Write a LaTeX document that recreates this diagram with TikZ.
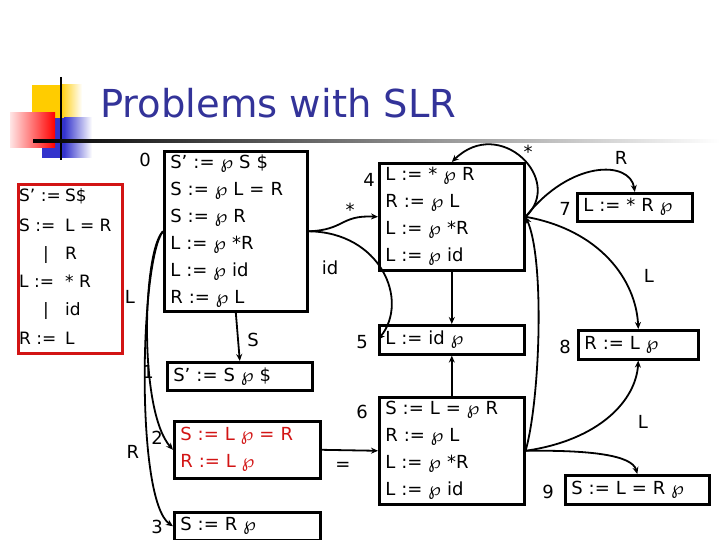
\documentclass[tikz,border=0pt]{standalone}
\usepackage{fontspec}
\setmainfont{DejaVu Sans}
\usetikzlibrary{arrows.meta}

\definecolor{titleblue}{RGB}{51,51,153}
\definecolor{gramred}{RGB}{210,20,20}
\definecolor{deckyellow}{RGB}{255,204,0}
\definecolor{deckblue}{RGB}{51,51,204}

\tikzset{
  lrstate/.style={draw, line width=2.6pt, anchor=north west, inner xsep=6pt,
    inner ysep=0pt, align=left, font=\fontsize{18}{27}\selectfont},
  stnum/.style={font=\fontsize{18}{20}\selectfont, inner sep=0pt},
  gramtext/.style={anchor=base west, inner sep=0pt, font=\fontsize{17}{20}\selectfont},
  trans/.style={line width=1.8pt, -{Stealth[length=7pt,width=6pt]}},
}

\begin{document}
\begin{tikzpicture}[x=1pt, y=-1pt]
  \useasboundingbox (0,0) rectangle (720,540);

  % Slide decoration
  \fill[deckyellow] (32,85) rectangle (60,118);
  \shade[left color=deckyellow, right color=white] (60,85) rectangle (82,118);
  \fill[deckblue] (42,118) rectangle (64,158);
  \shade[left color=deckblue, right color=white] (64,118) rectangle (92,158);
  \shade[left color=red!10, right color=red] (10,113) rectangle (55,148);
  \draw[line width=2pt] (61,77) -- (61,160);
  \shade[left color=black, middle color=gray!80, right color=white] (33,139.8) rectangle (720,142.2);
  \node[anchor=base west, inner sep=0pt, text=titleblue, font=\fontsize{38.5}{40}\selectfont]
    (title) at (100,118) {Problems with SLR};

  % Grammar
  \node[draw=gramred, line width=2.6pt, minimum width=104pt, minimum height=169pt,
    anchor=north west, inner sep=0pt] (gram) at (17,183) {};
  \foreach \y/\lhs/\rhs in {202/S’ :=/S\$, 231/S :=/L = R, 287/L :=/* R, 344/R :=/L} {
    \node[gramtext] (gl\y) at (19,\y) {\lhs};
    \node[gramtext] (gr\y) at (65,\y) {\rhs};
  }
  \foreach \y/\rhs in {259/R, 315/id} {
    \node[gramtext] (gb\y) at (43,\y) {|};
    \node[gramtext] (gr\y) at (65,\y) {\rhs};
  }

  % States
  \node[lrstate, text width=131pt, minimum height=160pt] (s0) at (163,150)
    {S’ := ℘ S \$\\ S := ℘ L = R\\ S := ℘ R\\ L := ℘ *R\\ L := ℘ id\\ R := ℘ L};
  \node[lrstate, text width=133pt, minimum height=28pt] (s1) at (166,361) {S’ := S ℘ \$};
  \node[lrstate, text width=134pt, minimum height=57pt, text=gramred] (s2) at (173,420)
    {S := L ℘ = R\\ R := L ℘};
  \node[lrstate, text width=134pt, minimum height=28pt] (s3) at (173,511) {S := R ℘};
  \node[lrstate, text width=133pt, minimum height=107pt] (s4) at (378,162)
    {L := * ℘ R\\ R := ℘ L\\ L := ℘ *R\\ L := ℘ id};
  \node[lrstate, text width=133pt, minimum height=29pt] (s5) at (378,324) {L := id ℘};
  \node[lrstate, text width=133pt, minimum height=107pt] (s6) at (378,396)
    {S := L = ℘ R\\ R := ℘ L\\ L := ℘ *R\\ L := ℘ id};
  \node[lrstate, text width=103pt, minimum height=28pt] (s7) at (576,192) {L := * R ℘};
  \node[lrstate, text width=108pt, minimum height=29pt] (s8) at (577,329) {R := L ℘};
  \node[lrstate, text width=132pt, minimum height=29pt] (s9) at (564,474) {S := L = R ℘};

  % State numbers
  \foreach \i/\x/\y in {0/145/160, 1/148/372, 2/157/438, 3/157/527, 4/369/180,
                        5/362/342, 6/362/412, 7/565/209, 8/565/347, 9/548/492} {
    \node[stnum] (n\i) at (\x,\y) {\i};
  }

  % Transitions
  \draw[trans] (s0.south) -- (s1.north);
  \draw[trans] (s0.west) .. controls (143,250) and (138,410) .. (s2.west);
  \draw[trans] (s0.west) .. controls (140,260) and (135,500) .. (s3.west);
  \draw[trans] (s0.east) .. controls (345,230) and (340,215) .. (s4.west);
  \draw[trans] (s0.east) .. controls (380,232) and (410,300) .. (s5.west);
  \draw[trans] (s4.east) .. controls (565,180) and (500,115) .. (s4.north);
  \draw[trans] (s4.east) .. controls (570,160) and (630,160) .. (s7.north);
  \draw[trans] (s4.east) .. controls (600,230) and (636,280) .. (s8.north);
  \draw[trans] (s4.south) -- (s5.north);
  \draw[trans] (s6.north) -- (s5.south);
  \draw[trans] (s2.east) -- (s6.west);
  \draw[trans] (s6.east) .. controls (540,400) and (545,260) .. (s4.east);
  \draw[trans] (s6.east) .. controls (600,440) and (636,400) .. (s8.south);
  \draw[trans] (s6.east) .. controls (590,450) and (632,455) .. (s9.north);

  % Transition labels
  \node[stnum] (lS) at (253,340) {S};
  \node[stnum] (lL0) at (130,297) {L};
  \node[stnum] (lR0) at (133,452) {R};
  \node[stnum] (lst0) at (350,210) {*};
  \node[stnum] (lid) at (330,268) {id};
  \node[stnum] (lst4) at (528,152) {*};
  \node[stnum] (lR4) at (621,158) {R};
  \node[stnum] (lL4) at (649,276) {L};
  \node[stnum] (leq) at (343,466) {=};
  \node[stnum] (lL6) at (643,422) {L};
\end{tikzpicture}
\end{document}
